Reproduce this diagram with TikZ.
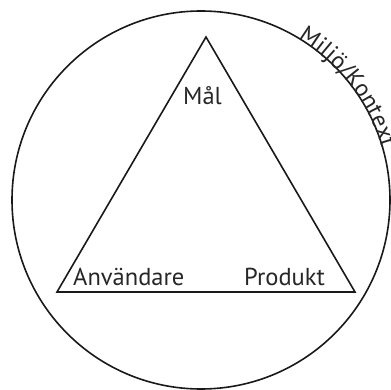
\documentclass[tikz,border=0pt]{standalone}
\usepackage{fontspec}
\setmainfont{PT Sans}
\usetikzlibrary{decorations.text,calc}
\begin{document}
\begin{tikzpicture}[x=1pt,y=1pt,
  shapeline/.style={line width=1.6pt, black!90},
  lbl/.style={font=\fontsize{24.5}{28}\selectfont, inner sep=0pt, anchor=base west, text=black!85}]
\useasboundingbox (0,0) rectangle (391,389);
\coordinate (c) at (201,189);
\draw[shapeline] (c) circle[radius=189];
\coordinate (top) at (206,352);
\coordinate (bl) at (57,97);
\coordinate (br) at (355,97);
\draw[shapeline, line join=miter] (top) -- (bl) -- (br) -- cycle;
\node[lbl, anchor=base] (mal) at (202.5,284) {Mål};
\node[lbl] (anv) at (73,104) {Användare};
\node[lbl] (prod) at (244,104) {Produkt};
\path[decorate, decoration={text along path, text={|\fontsize{24}{28}\selectfont\color{black!85}|Miljö/Kontext}, text align=left}]
  ($(c)+(59:188)$) arc[start angle=59, end angle=5, radius=188];
\end{tikzpicture}
\end{document}
